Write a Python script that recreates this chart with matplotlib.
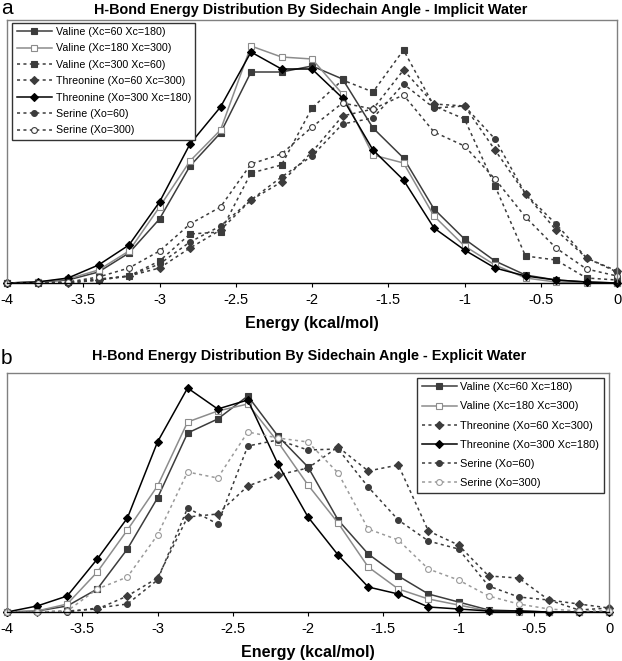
import numpy as np
import matplotlib.pyplot as plt

plt.rcParams['font.family'] = ['Liberation Sans', 'DejaVu Sans']

# energy bins (kcal/mol)
energy = [-4.0, -3.8, -3.6, -3.4, -3.2, -3.0, -2.8, -2.6, -2.4, -2.2, -2.0,
          -1.8, -1.6, -1.4, -1.2, -1.0, -0.8, -0.6, -0.4, -0.2, 0.0]

# panel a - implicit water (relative frequency, arbitrary units)
imp_val_60_180 = [0, 1, 3, 11, 30, 64, 117, 150, 211, 211, 217, 204, 155, 125, 74, 44, 22, 8, 3, 1, 0]
imp_val_180_300 = [0, 1, 4, 13, 32, 76, 122, 153, 237, 226, 224, 189, 128, 120, 67, 37, 18, 5, 1, 0, 0]
imp_val_300_60 = [0, 0, 1, 4, 7, 22, 49, 51, 110, 118, 175, 203, 191, 233, 177, 164, 97, 27, 23, 5, 3]
imp_thr_60_300 = [0, 0, 0, 3, 7, 15, 35, 53, 83, 101, 131, 167, 174, 213, 179, 177, 133, 89, 53, 25, 12]
imp_thr_300_180 = [0, 1, 5, 18, 38, 81, 139, 176, 231, 214, 214, 185, 133, 103, 55, 33, 15, 7, 3, 1, 0]
imp_ser_60 = [0, 0, 0, 3, 7, 19, 41, 57, 83, 106, 127, 159, 165, 199, 175, 177, 144, 89, 59, 25, 11]
imp_ser_300 = [0, 0, 1, 6, 15, 32, 59, 76, 119, 129, 156, 180, 174, 188, 151, 137, 104, 66, 35, 14, 7]

# panel b - explicit water
exp_val_60_180 = [0, 1, 6, 23, 63, 114, 179, 193, 216, 176, 145, 92, 58, 36, 18, 10, 2, 1, 0, 0, 0]
exp_val_180_300 = [0, 1, 8, 40, 82, 126, 190, 201, 208, 170, 127, 89, 45, 23, 13, 7, 1, 0, 0, 0, 0]
exp_thr_60_300 = [0, 0, 1, 3, 16, 34, 95, 98, 126, 137, 144, 165, 141, 147, 81, 67, 36, 34, 12, 8, 4]
exp_thr_300_180 = [0, 6, 16, 53, 94, 170, 224, 203, 212, 148, 95, 57, 25, 18, 5, 3, 1, 1, 0, 0, 0]
exp_ser_60 = [0, 0, 0, 4, 8, 32, 104, 88, 166, 172, 162, 163, 125, 92, 71, 63, 26, 15, 12, 2, 4]
exp_ser_300 = [0, 0, 1, 23, 35, 77, 140, 134, 180, 174, 170, 139, 83, 72, 43, 32, 16, 8, 3, 1, 1]

DARK = '#3c3c3c'
LIGHT = '#8c8c8c'
DOT = (0, (2, 2.2))

fig = plt.figure(figsize=(6.22, 6.61), dpi=100)
ax_a = fig.add_axes([7/622, 1-283/661, 610/622, 263/661])
ax_b = fig.add_axes([7/622, 1-612/661, 602/622, 239/661])


def style(ax, ytop):
    ax.set_xlim(-4, 0)
    ax.set_ylim(0, ytop)
    ax.set_yticks([])
    ax.set_xticks([-4, -3.5, -3, -2.5, -2, -1.5, -1, -0.5, 0])
    ax.set_xticklabels(['-4', '-3.5', '-3', '-2.5', '-2', '-1.5', '-1', '-0.5', '0'])
    ax.tick_params(axis='x', direction='out', length=3, width=0.8, labelsize=10.5, pad=4)
    for s in ['top', 'right', 'left']:
        ax.spines[s].set_color('#808080')
        ax.spines[s].set_linewidth(1.0)
    ax.spines['bottom'].set_color('black')
    ax.spines['bottom'].set_linewidth(1.0)
    ax.set_xlabel('Energy (kcal/mol)', fontsize=11.5, fontweight='bold', labelpad=7)


def line(ax, y, label, color, ls, marker, mfc=None, ms=4.2):
    ax.plot(energy, y, color=color, linestyle=ls, lw=1.1, marker=marker,
            markersize=ms, markerfacecolor=mfc if mfc else color,
            markeredgecolor=color, markeredgewidth=0.8, label=label,
            clip_on=False)


# panel a
line(ax_a, imp_val_60_180, 'Valine (Xc=60 Xc=180)', DARK, '-', 's')
line(ax_a, imp_val_180_300, 'Valine (Xc=180 Xc=300)', LIGHT, '-', 's', mfc='white')
line(ax_a, imp_val_300_60, 'Valine (Xc=300 Xc=60)', DARK, DOT, 's')
line(ax_a, imp_thr_60_300, 'Threonine (Xo=60 Xc=300)', DARK, DOT, 'D', ms=3.6)
line(ax_a, imp_thr_300_180, 'Threonine (Xo=300 Xc=180)', 'black', '-', 'D', ms=3.6)
line(ax_a, imp_ser_60, 'Serine (Xo=60)', DARK, DOT, 'o')
line(ax_a, imp_ser_300, 'Serine (Xo=300)', DARK, DOT, 'o', mfc='white')
style(ax_a, 263)
leg = ax_a.legend(loc='upper left', bbox_to_anchor=(0.009, 0.99), borderaxespad=0,
                  fontsize=7.7, handlelength=3.3, handletextpad=0.35,
                  labelspacing=0.6, borderpad=0.4,
                  fancybox=False, framealpha=1, edgecolor='#333333')
leg.get_frame().set_linewidth(1.0)

# panel b
line(ax_b, exp_val_60_180, 'Valine (Xc=60 Xc=180)', DARK, '-', 's')
line(ax_b, exp_val_180_300, 'Valine (Xc=180 Xc=300)', LIGHT, '-', 's', mfc='white')
line(ax_b, exp_thr_60_300, 'Threonine (Xo=60 Xc=300)', DARK, DOT, 'D', ms=3.6)
line(ax_b, exp_thr_300_180, 'Threonine (Xo=300 Xc=180)', 'black', '-', 'D', ms=3.6)
line(ax_b, exp_ser_60, 'Serine (Xo=60)', DARK, DOT, 'o')
line(ax_b, exp_ser_300, 'Serine (Xo=300)', '#9a9a9a', DOT, 'o', mfc='white')
style(ax_b, 239)
leg = ax_b.legend(loc='upper right', bbox_to_anchor=(0.9915, 0.98), borderaxespad=0,
                  fontsize=7.9, handlelength=3.2, handletextpad=0.35,
                  labelspacing=0.84, borderpad=0.4,
                  fancybox=False, framealpha=1, edgecolor='#333333')
leg.get_frame().set_linewidth(1.0)

fig.text(311/622, 1-10/661, 'H-Bond Energy Distribution By Sidechain Angle - Implicit Water',
         ha='center', va='center', fontsize=10.4, fontweight='bold')
fig.text(309/622, 1-356/661, 'H-Bond Energy Distribution By Sidechain Angle - Explicit Water',
         ha='center', va='center', fontsize=10.4, fontweight='bold')
fig.text(1/622, 1-8/661, 'a', ha='left', va='center', fontsize=15)
fig.text(1/622, 1-359/661, 'b', ha='left', va='center', fontsize=15)

fig.savefig('out.png', dpi=100)
